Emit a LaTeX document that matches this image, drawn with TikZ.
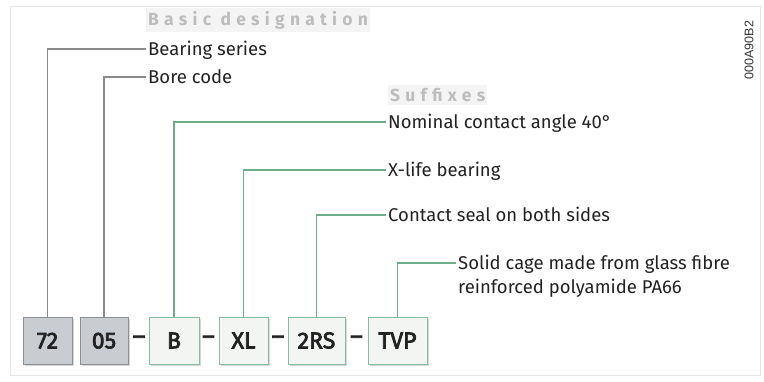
\documentclass[tikz,border=0pt]{standalone}
\usepackage{fontspec}
\setmainfont{Fira Sans}
\newfontfamily\codefont{Liberation Sans}
\newfontfamily\boxfont[FakeBold=3]{Fira Sans}
\usetikzlibrary{shadows}
\definecolor{gfill}{HTML}{C9CCD1}
\definecolor{gdraw}{HTML}{8C9095}
\definecolor{nfill}{HTML}{F3F5F3}
\definecolor{ndraw}{HTML}{86BC9F}
\definecolor{glinec}{HTML}{8A8A8A}
\definecolor{nlinec}{HTML}{6DAE8A}
\definecolor{htext}{HTML}{BDBDBD}
\definecolor{hfill}{HTML}{F4F4F4}
\definecolor{framec}{HTML}{E4E8E4}
\definecolor{ink}{HTML}{222222}
\begin{document}
\begin{tikzpicture}[x=1pt,y=-1pt,
  box/.style={draw, line width=1pt, minimum height=47pt, inner sep=0pt,
    font=\boxfont\fontsize{23}{26}\selectfont, text=ink, text height=15.8pt, text depth=0pt,
    drop shadow={shadow xshift=1.5pt, shadow yshift=-1.5pt, opacity=0.35, fill=black!45}},
  gbox/.style={box, fill=gfill, draw=gdraw},
  nbox/.style={box, fill=nfill, draw=ndraw},
  dashsym/.style={inner sep=0pt, font=\boxfont\fontsize{24}{26}\selectfont, text=ink},
  lbl/.style={anchor=west, inner xsep=2pt, inner ysep=0pt, text=ink,
    font=\fontsize{18.5}{22}\selectfont, text height=12.7pt, text depth=0pt},
  head/.style={anchor=west, fill=hfill, inner xsep=2pt, inner ysep=3pt, text=htext,
    font=\fontsize{17.5}{20}\selectfont\bfseries\addfontfeature{LetterSpace=30}},
  gconn/.style={draw=glinec, line width=1.2pt},
  nconn/.style={draw=nlinec, line width=1.2pt},
]
\useasboundingbox (0,0) rectangle (764,381);
\draw[framec, line width=1pt] (10,6) rectangle (760,375);

% boxes
\node[gbox, minimum width=49pt] (b72) at (47.5,340.5) {72};
\node[gbox, minimum width=48pt] (b05) at (104,340.5) {05};
\node[nbox, minimum width=50pt] (bB) at (174,340.5) {B};
\node[nbox, minimum width=49pt] (bXL) at (243.5,340.5) {XL};
\node[nbox, minimum width=57pt] (b2RS) at (316.5,340.5) {2RS};
\node[nbox, minimum width=59pt] (bTVP) at (397.5,340.5) {TVP};

% dashes
\node[dashsym] (d1) at (139,340) {–};
\node[dashsym] (d2) at (208.5,340) {–};
\node[dashsym] (d3) at (278,340) {–};
\node[dashsym] (d4) at (356.5,340) {–};

% headings
\node[head] (hb) at (146,20) {Basic designation};
\node[head] (hs) at (388,95) {Suffixes};

% labels
\node[lbl] (bs) at (146,49) {Bearing series};
\node[lbl] (bc) at (146,77) {Bore code};
\node[lbl] (nca) at (386,122) {Nominal contact angle 40°};
\node[lbl] (xl) at (386,170) {X-life bearing};
\node[lbl] (cs) at (386,215) {Contact seal on both sides};
\node[lbl] (sc) at (456,263) {Solid cage made from glass fibre};
\node[lbl] (sc2) at (456,287) {reinforced polyamide PA66};

% connectors
\draw[gconn] (b72.north) |- (bs.west);
\draw[gconn] (b05.north) |- (bc.west);
\draw[nconn] (bB.north) |- (nca.west);
\draw[nconn] (bXL.north) |- (xl.west);
\draw[nconn] (b2RS.north) |- (cs.west);
\draw[nconn] (bTVP.north) |- (sc.west);

% code
\node[rotate=90, inner sep=0pt, text=black!80, font=\codefont\fontsize{12.5}{14}\selectfont] (code) at (749,50) {000A90B2};
\end{tikzpicture}
\end{document}
